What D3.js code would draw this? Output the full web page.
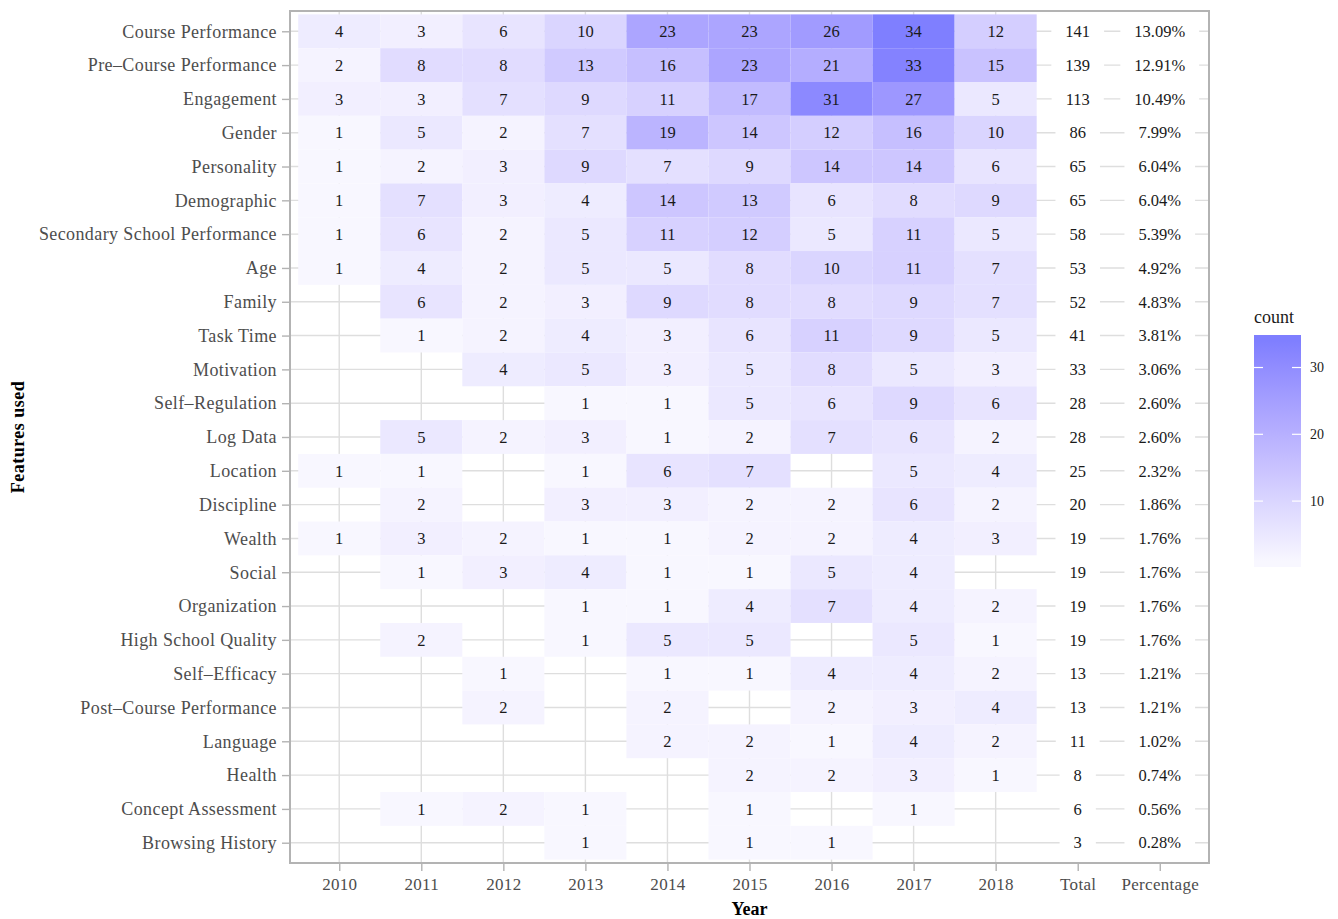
<!DOCTYPE html>
<html>
<head>
<meta charset="utf-8">
<script src="https://cdn.jsdelivr.net/npm/d3@7"></script>
<style>
  body { margin: 0; background: #fff; }
  text { font-family: "Liberation Serif", serif; }
</style>
</head>
<body>
<div id="chart"></div>
<script>
// years shown as columns
const years = ['2010', '2011', '2012', '2013', '2014', '2015', '2016', '2017', '2018'];
const extraCols = ['Total', 'Percentage'];

// features (rows, top to bottom)
const features = [
  'Course Performance', 'Pre–Course Performance', 'Engagement', 'Gender', 'Personality',
  'Demographic', 'Secondary School Performance', 'Age', 'Family', 'Task Time',
  'Motivation', 'Self–Regulation', 'Log Data', 'Location', 'Discipline',
  'Wealth', 'Social', 'Organization', 'High School Quality', 'Self–Efficacy',
  'Post–Course Performance', 'Language', 'Health', 'Concept Assessment', 'Browsing History'
];

// counts per year (null = no study)
const counts = [
  [4, 3, 6, 10, 23, 23, 26, 34, 12],
  [2, 8, 8, 13, 16, 23, 21, 33, 15],
  [3, 3, 7, 9, 11, 17, 31, 27, 5],
  [1, 5, 2, 7, 19, 14, 12, 16, 10],
  [1, 2, 3, 9, 7, 9, 14, 14, 6],
  [1, 7, 3, 4, 14, 13, 6, 8, 9],
  [1, 6, 2, 5, 11, 12, 5, 11, 5],
  [1, 4, 2, 5, 5, 8, 10, 11, 7],
  [null, 6, 2, 3, 9, 8, 8, 9, 7],
  [null, 1, 2, 4, 3, 6, 11, 9, 5],
  [null, null, 4, 5, 3, 5, 8, 5, 3],
  [null, null, null, 1, 1, 5, 6, 9, 6],
  [null, 5, 2, 3, 1, 2, 7, 6, 2],
  [1, 1, null, 1, 6, 7, null, 5, 4],
  [null, 2, null, 3, 3, 2, 2, 6, 2],
  [1, 3, 2, 1, 1, 2, 2, 4, 3],
  [null, 1, 3, 4, 1, 1, 5, 4, null],
  [null, null, null, 1, 1, 4, 7, 4, 2],
  [null, 2, null, 1, 5, 5, null, 5, 1],
  [null, null, 1, null, 1, 1, 4, 4, 2],
  [null, null, 2, null, 2, null, 2, 3, 4],
  [null, null, null, null, 2, 2, 1, 4, 2],
  [null, null, null, null, null, 2, 2, 3, 1],
  [null, 1, 2, 1, null, 1, null, 1, null],
  [null, null, null, 1, null, 1, 1, null, null]
];

const totals = [141, 139, 113, 86, 65, 65, 58, 53, 52, 41, 33, 28, 28, 25, 20, 19, 19, 19, 19, 13, 13, 11, 8, 6, 3];
const percentages = ['13.09%', '12.91%', '10.49%', '7.99%', '6.04%', '6.04%', '5.39%', '4.92%', '4.83%', '3.81%',
  '3.06%', '2.60%', '2.60%', '2.32%', '1.86%', '1.76%', '1.76%', '1.76%', '1.76%', '1.21%',
  '1.21%', '1.02%', '0.74%', '0.56%', '0.28%'];

const legendTicks = [10, 20, 30];

const width = 1338;
const height = 919;
const panel = { left: 290, right: 1209, top: 11, bottom: 863 };

const svg = d3.select('#chart')
  .append('svg')
  .attr('width', width)
  .attr('height', height);

const x = d3.scalePoint()
  .domain([...years, ...extraCols])
  .range([panel.left, panel.right])
  .padding(0.6);

const y = d3.scalePoint()
  .domain(features)
  .range([panel.top, panel.bottom])
  .padding(0.6);

const [cMin, cMax] = d3.extent(counts.flat().filter(v => v != null));
const color = d3.scaleLinear()
  .domain([cMin, cMax])
  .range(['#f8f7ff', '#7f7fff'])
  .interpolate(d3.interpolateLab);

// panel background
svg.append('rect')
  .attr('x', panel.left).attr('y', panel.top)
  .attr('width', panel.right - panel.left)
  .attr('height', panel.bottom - panel.top)
  .attr('fill', '#fff');

// gridlines
const grid = svg.append('g').attr('stroke', '#dedede').attr('stroke-width', 1.4);
grid.selectAll('.hgrid')
  .data(features)
  .enter()
  .append('line')
  .attr('x1', panel.left).attr('x2', panel.right)
  .attr('y1', d => y(d)).attr('y2', d => y(d));
grid.selectAll('.vgrid')
  .data(years)
  .enter()
  .append('line')
  .attr('y1', panel.top).attr('y2', panel.bottom)
  .attr('x1', d => x(d)).attr('x2', d => x(d));

// tiles
const cells = [];
counts.forEach((row, i) => {
  row.forEach((v, j) => {
    if (v != null) cells.push({ feature: features[i], year: years[j], value: v });
  });
});

const sx = x.step();
const sy = y.step();

svg.append('g')
  .selectAll('rect')
  .data(cells)
  .enter()
  .append('rect')
  .attr('x', d => x(d.year) - sx / 2)
  .attr('y', d => y(d.feature) - sy / 2)
  .attr('width', sx)
  .attr('height', sy)
  .attr('fill', d => color(d.value));

svg.append('g')
  .selectAll('text')
  .data(cells)
  .enter()
  .append('text')
  .attr('x', d => x(d.year))
  .attr('y', d => y(d.feature))
  .attr('dy', '0.35em')
  .attr('text-anchor', 'middle')
  .style('font-size', '16.5px')
  .style('fill', '#1a1a1a')
  .text(d => d.value);

// total + percentage labels with white boxes
const labelRows = features.map((f, i) => ({ feature: f, total: totals[i], pct: percentages[i] }));
const addLabelColumn = (col, accessor) => {
  const g = svg.append('g');
  const items = g.selectAll('g')
    .data(labelRows)
    .enter()
    .append('g');
  const boxes = items.append('rect').attr('fill', '#fff');
  const texts = items.append('text')
    .attr('x', x(col))
    .attr('y', d => y(d.feature))
    .attr('dy', '0.35em')
    .attr('text-anchor', 'middle')
    .style('font-size', '16.5px')
    .style('fill', '#1a1a1a')
    .text(accessor);
  texts.each(function (d, i) {
    const w = this.getComputedTextLength();
    d3.select(boxes.nodes()[i])
      .attr('x', x(col) - w / 2 - 14)
      .attr('width', w + 28)
      .attr('y', y(d.feature) - sy / 2)
      .attr('height', sy);
  });
};
addLabelColumn('Total', d => d.total);
addLabelColumn('Percentage', d => d.pct);

// panel border
svg.append('rect')
  .attr('x', panel.left).attr('y', panel.top)
  .attr('width', panel.right - panel.left)
  .attr('height', panel.bottom - panel.top)
  .attr('fill', 'none')
  .attr('stroke', '#b3b3b3')
  .attr('stroke-width', 2);

// axes
const yAxis = svg.append('g')
  .attr('transform', `translate(${panel.left - 1},0)`)
  .call(d3.axisLeft(y).tickSize(7).tickPadding(5));
const xAxis = svg.append('g')
  .attr('transform', `translate(0,${panel.bottom + 1})`)
  .call(d3.axisBottom(x).tickSize(7).tickPadding(7));
[yAxis, xAxis].forEach(ax => {
  ax.select('.domain').remove();
  ax.selectAll('line').attr('stroke', '#b3b3b3').attr('stroke-width', 1.4);
  ax.selectAll('text')
    .style('font-family', '"Liberation Serif", serif')
    .attr('fill', '#4d4d4d');
});
yAxis.selectAll('text').style('font-size', '18px').style('letter-spacing', '0.4px');
xAxis.selectAll('text').style('font-size', '17px').style('letter-spacing', '0.3px');

// axis titles
svg.append('text')
  .attr('x', (panel.left + panel.right) / 2)
  .attr('y', 915)
  .attr('text-anchor', 'middle')
  .style('font-size', '18px')
  .style('font-weight', 'bold')
  .text('Year');

svg.append('text')
  .attr('transform', `translate(24,${(panel.top + panel.bottom) / 2}) rotate(-90)`)
  .attr('text-anchor', 'middle')
  .style('font-size', '18px')
  .style('font-weight', 'bold')
  .style('letter-spacing', '0.5px')
  .text('Features used');

// legend (colourbar)
const legend = { x: 1254, top: 335, w: 47, h: 232, nbin: 20 };
const binH = legend.h / legend.nbin;
const ly = d3.scaleLinear()
  .domain([cMin, cMax])
  .range([legend.top + legend.h - binH / 2, legend.top + binH / 2]);

const grad = svg.append('defs')
  .append('linearGradient')
  .attr('id', 'countGrad')
  .attr('gradientUnits', 'userSpaceOnUse')
  .attr('x1', 0).attr('x2', 0)
  .attr('y1', ly(cMin)).attr('y2', ly(cMax));
d3.range(0, 1.0001, 0.1).forEach(t => {
  grad.append('stop')
    .attr('offset', t)
    .attr('stop-color', color(cMin + (cMax - cMin) * t));
});

svg.append('rect')
  .attr('x', legend.x)
  .attr('y', legend.top)
  .attr('width', legend.w)
  .attr('height', legend.h)
  .attr('fill', 'url(#countGrad)');

const lt = svg.append('g');
legendTicks.forEach(t => {
  lt.append('line')
    .attr('x1', legend.x).attr('x2', legend.x + 9)
    .attr('y1', ly(t)).attr('y2', ly(t))
    .attr('stroke', '#fff').attr('stroke-width', 1.2);
  lt.append('line')
    .attr('x1', legend.x + legend.w - 9).attr('x2', legend.x + legend.w)
    .attr('y1', ly(t)).attr('y2', ly(t))
    .attr('stroke', '#fff').attr('stroke-width', 1.2);
  lt.append('text')
    .attr('x', legend.x + legend.w + 9)
    .attr('y', ly(t))
    .attr('dy', '0.35em')
    .style('font-size', '14px')
    .style('fill', '#1a1a1a')
    .text(t);
});

svg.append('text')
  .attr('x', legend.x)
  .attr('y', 323)
  .style('font-size', '18px')
  .style('fill', '#1a1a1a')
  .text('count');
</script>
</body>
</html>
